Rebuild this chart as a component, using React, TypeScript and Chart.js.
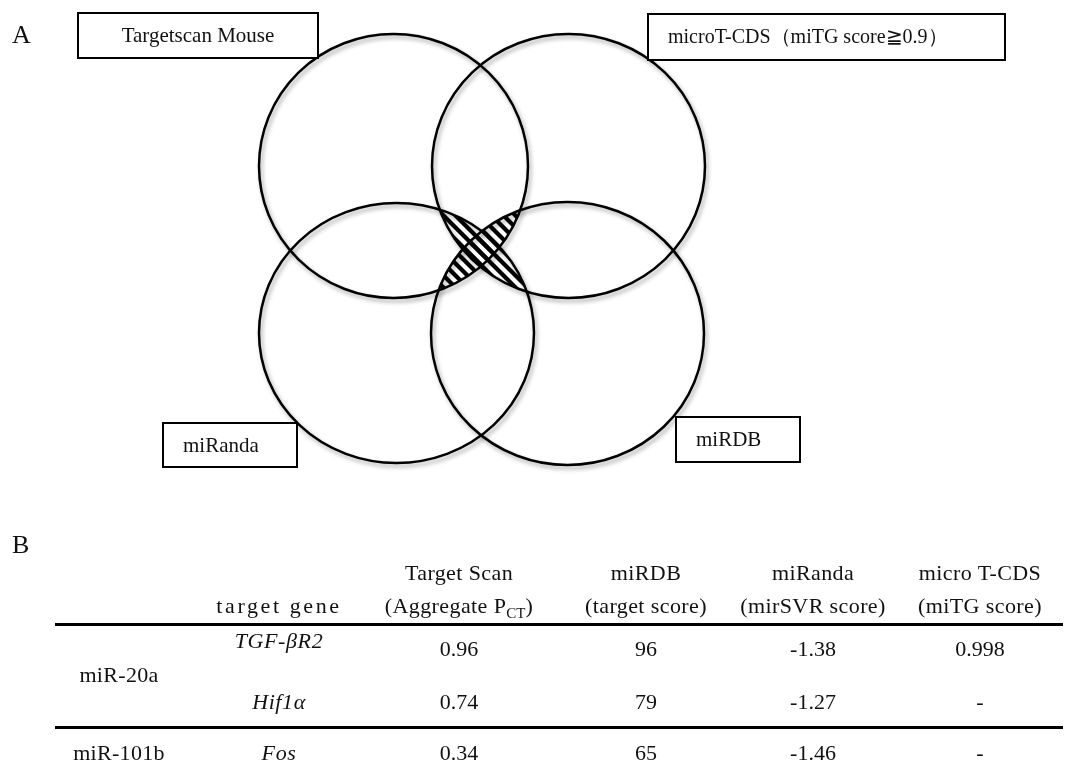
import React, { useEffect, useRef } from 'react';
import { Chart, registerables } from 'chart.js';

Chart.register(...registerables);

// ---------- Venn data (panel A) ----------
const setLabels = ['Targetscan Mouse', 'microT-CDS（miTG score≧0.9）', 'miRanda', 'miRDB'];
const setCenterX = [393.5, 568.5, 396.5, 567.5];
const setCenterY = [166, 166, 333, 333.5];
const setRadiusX = [134.5, 136.5, 137.5, 136.5];
const setRadiusY = [132, 132, 130, 131.5];
// pairs of sets whose common area is hatched
const hatchedPairs = [
  [0, 3],
  [1, 2],
];

// ---------- Table data (panel B) ----------
const headerTop = ['', '', 'Target Scan', 'miRDB', 'miRanda', 'micro T-CDS'];
const headerBottom = ['', 'target gene', '(Aggregate P', '(target score)', '(mirSVR score)', '(miTG score)'];
const mirnaNames = ['miR-20a', 'miR-101b'];
const targetGenes = ['TGF-βR2', 'Hif1α', 'Fos'];
const targetScanValues = [0.96, 0.74, 0.34];
const miRDBValues = [96, 79, 65];
const miRandaValues = [-1.38, -1.27, -1.46];
const microTValues: (number | null)[] = [0.998, null, null];

// ---------- layout (pixels) ----------
const W = 1065;
const H = 773;
const labelBoxes = [
  { x: 78, y: 13, w: 240, h: 45, align: 'center', fs: 21 },
  { x: 648, y: 14, w: 357, h: 46, align: 'left', fs: 20 },
  { x: 163, y: 423, w: 134, h: 44, align: 'left', fs: 21 },
  { x: 676, y: 417, w: 124, h: 45, align: 'left', fs: 21 },
];
const colX = [119, 279, 459, 646, 813, 980];
const headerBaselines = [580, 613];
const geneBaselines = [648, 709, 760];
const valueBaselines = [656, 709, 760];
const mirnaBaselines = [682, 760];
const ruleYs = [623, 726];
const FONT = '"Liberation Serif", "Times New Roman", serif';
const TFS = 22; // table font size
const ASC = 0.891 * TFS;
const DESC = 0.216 * TFS;

function Cell(props: { cx: number; baseline: number; children: any; italic?: boolean; ls?: number }) {
  const lh = TFS;
  const top = props.baseline - ((lh - (ASC + DESC)) / 2 + ASC);
  return (
    <div
      style={{
        position: 'absolute',
        left: props.cx - 150,
        width: 300,
        top,
        height: lh,
        lineHeight: lh + 'px',
        fontSize: TFS,
        fontFamily: FONT,
        fontStyle: props.italic ? 'italic' : 'normal',
        textAlign: 'center',
        whiteSpace: 'nowrap',
        letterSpacing: (props.ls ?? 0) + 'px',
        color: '#111',
      }}
    >
      {props.children}
    </div>
  );
}

const fmt = (v: number | null) => (v === null ? '-' : String(v));

export default function App() {
  const ref = useRef<HTMLCanvasElement>(null);

  useEffect(() => {
    const canvas = ref.current!;
    const vennPlugin = {
      id: 'venn',
      afterDraw(chart: any) {
        const ctx: CanvasRenderingContext2D = chart.ctx;
        const xs = chart.scales.x;
        const ys = chart.scales.y;
        const ell = (i: number) => {
          const cx = xs.getPixelForValue(setCenterX[i]);
          const cy = ys.getPixelForValue(setCenterY[i]);
          const rx = Math.abs(xs.getPixelForValue(setCenterX[i] + setRadiusX[i]) - cx);
          const ry = Math.abs(ys.getPixelForValue(setCenterY[i] + setRadiusY[i]) - cy);
          return { cx, cy, rx, ry };
        };
        const path = (i: number) => {
          const e = ell(i);
          ctx.beginPath();
          ctx.ellipse(e.cx, e.cy, e.rx, e.ry, 0, 0, Math.PI * 2);
        };

        // hatched overlaps (common phase so overlapping areas line up)
        const step = 12;
        hatchedPairs.forEach(([a, b]) => {
          const ea = ell(a);
          const eb = ell(b);
          ctx.save();
          path(a);
          ctx.clip();
          path(b);
          ctx.clip();
          const x0 = Math.max(ea.cx - ea.rx, eb.cx - eb.rx) - 5;
          const x1 = Math.min(ea.cx + ea.rx, eb.cx + eb.rx) + 5;
          const y0 = Math.max(ea.cy - ea.ry, eb.cy - eb.ry) - 5;
          const y1 = Math.min(ea.cy + ea.ry, eb.cy + eb.ry) + 5;
          ctx.strokeStyle = '#000';
          ctx.lineWidth = 4.2;
          const kMin = Math.floor((y0 - x1) / step);
          const kMax = Math.ceil((y1 - x0) / step);
          for (let k = kMin; k <= kMax; k++) {
            const c = k * step;
            ctx.beginPath();
            ctx.moveTo(x0, x0 + c);
            ctx.lineTo(x1, x1 + c);
            ctx.stroke();
          }
          ctx.restore();
        });

        // circles
        ctx.save();
        ctx.shadowColor = 'rgba(0,0,0,0.35)';
        ctx.shadowBlur = 4;
        ctx.shadowOffsetX = 2;
        ctx.shadowOffsetY = 3;
        ctx.strokeStyle = '#000';
        ctx.lineWidth = 2.5;
        for (let i = 0; i < setLabels.length; i++) {
          path(i);
          ctx.stroke();
        }
        ctx.restore();

        // label boxes
        ctx.save();
        ctx.textBaseline = 'middle';
        labelBoxes.forEach((b, i) => {
          ctx.fillStyle = '#fff';
          ctx.fillRect(b.x, b.y, b.w, b.h);
          ctx.strokeStyle = '#000';
          ctx.lineWidth = 2;
          ctx.strokeRect(b.x, b.y, b.w, b.h);
          ctx.fillStyle = '#111';
          ctx.font = b.fs + 'px ' + FONT;
          if (b.align === 'center') {
            ctx.textAlign = 'center';
            ctx.fillText(setLabels[i], b.x + b.w / 2, b.y + b.h / 2 + 1);
          } else {
            ctx.textAlign = 'left';
            ctx.fillText(setLabels[i], b.x + 20, b.y + b.h / 2 + 1);
          }
        });
        // panel letter
        ctx.font = '26px ' + FONT;
        ctx.textAlign = 'left';
        ctx.textBaseline = 'alphabetic';
        ctx.fillText('A', 12, 43);
        ctx.restore();
      },
    };

    const chart = new Chart(canvas, {
      type: 'scatter',
      data: {
        datasets: [
          {
            data: setLabels.map((_, i) => ({ x: setCenterX[i], y: setCenterY[i] })),
            pointRadius: 0,
          },
        ],
      },
      options: {
        animation: false,
        responsive: false,
        devicePixelRatio: 1,
        events: [],
        layout: { padding: 0, autoPadding: false },
        scales: {
          x: { type: 'linear', min: 0, max: W, display: false },
          y: { type: 'linear', min: 0, max: H, reverse: true, display: false },
        },
        plugins: { legend: { display: false }, tooltip: { enabled: false } },
      },
      plugins: [vennPlugin],
    } as any);
    return () => chart.destroy();
  }, []);

  const valueCols = [targetScanValues, miRDBValues, miRandaValues, microTValues];

  return (
    <div style={{ position: 'fixed', left: 0, top: 0, width: W, height: H, background: '#fff', overflow: 'hidden' }}>
      <canvas ref={ref} width={W} height={H} style={{ position: 'absolute', left: 0, top: 0, width: W, height: H }} />
      <div
        style={{
          position: 'absolute',
          left: 12,
          top: 556 - 0.891 * 26 - 1,
          fontSize: 26,
          lineHeight: '26px',
          fontFamily: FONT,
          color: '#111',
        }}
      >
        B
      </div>
      {headerTop.map((t, i) =>
        t ? (
          <Cell key={'ht' + i} cx={colX[i]} baseline={headerBaselines[0]} ls={0.4}>
            {t}
          </Cell>
        ) : null
      )}
      {headerBottom.map((t, i) =>
        t ? (
          <Cell key={'hb' + i} cx={colX[i]} baseline={headerBaselines[1]} ls={i === 1 ? 2.6 : 0.4}>
            {t}
            {i === 2 ? (
              <>
                <span style={{ fontSize: 15, position: 'relative', top: 5, letterSpacing: 0 }}>CT</span>)
              </>
            ) : null}
          </Cell>
        ) : null
      )}
      {ruleYs.map((y, i) => (
        <div key={'r' + i} style={{ position: 'absolute', left: 55, width: 1008, top: y, height: 3, background: '#000' }} />
      ))}
      <Cell cx={colX[0]} baseline={mirnaBaselines[0]} ls={0.3}>
        {mirnaNames[0]}
      </Cell>
      <Cell cx={colX[0]} baseline={mirnaBaselines[1]} ls={0.3}>
        {mirnaNames[1]}
      </Cell>
      {targetGenes.map((g, r) => (
        <Cell key={'g' + r} cx={colX[1]} baseline={geneBaselines[r]} italic ls={0.6}>
          {g}
        </Cell>
      ))}
      {valueCols.map((col, c) =>
        col.map((v, r) => (
          <Cell key={'v' + c + '-' + r} cx={colX[c + 2]} baseline={valueBaselines[r]}>
            {fmt(v as any)}
          </Cell>
        ))
      )}
    </div>
  );
}
